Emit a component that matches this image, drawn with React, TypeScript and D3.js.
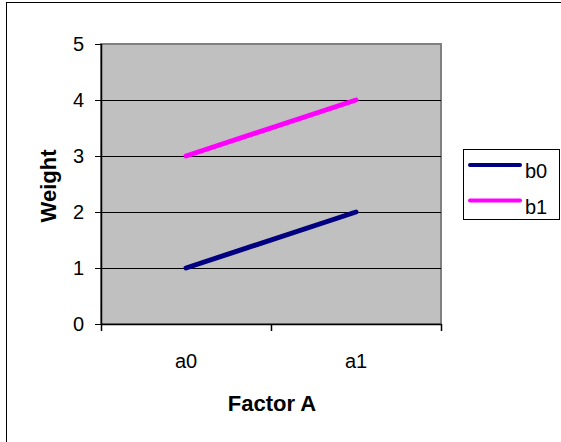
import React from "react";
import * as d3 from "d3";

const categories = ["a0", "a1"];
const seriesNames = ["b0", "b1"];
const b0Values = [1, 2];
const b1Values = [3, 4];
const yTicks = [0, 1, 2, 3, 4, 5];
const colors = ["#000080", "#FF00FF"];

export default function App() {
  const W = 561, H = 442;
  const left = 101, right = 441, top = 44, bottom = 324;
  const x = d3.scaleBand<string>().domain(categories).range([left, right]);
  const y = d3.scaleLinear().domain([0, 5]).range([bottom, top]);
  const cx = (c: string) => (x(c) ?? 0) + x.bandwidth() / 2;
  const series = [b0Values, b1Values];
  const line = d3
    .line<number>()
    .x((_, i) => cx(categories[i]))
    .y((d) => y(d));
  const font = "Arial, 'Liberation Sans', sans-serif";
  const boundaries = [left, ...categories.map((c) => (x(c) ?? 0) + x.bandwidth())];

  return (
    <div style={{ position: "absolute", left: 0, top: 0 }}>
      <svg width={W} height={H} style={{ display: "block", background: "#fff" }} fontFamily={font}>
        <rect x={6.5} y={2.5} width={700} height={600} fill="#fff" stroke="#000" strokeWidth={1} />
        <rect x={left} y={top} width={right - left} height={bottom - top} fill="#C0C0C0" stroke="#808080" strokeWidth={2} />
        {yTicks.filter((t) => t > 0 && t < 5).map((t) => (
          <line key={t} x1={left} x2={right} y1={y(t) + 0.5} y2={y(t) + 0.5} stroke="#000" strokeWidth={1} />
        ))}
        <line x1={left + 0.5} x2={left + 0.5} y1={top} y2={bottom} stroke="#000" strokeWidth={1.5} />
        <line x1={left} x2={right + 1} y1={bottom + 0.5} y2={bottom + 0.5} stroke="#000" strokeWidth={1.5} />
        {yTicks.map((t) => (
          <g key={t}>
            <line x1={left - 6} x2={left} y1={y(t) + 0.5} y2={y(t) + 0.5} stroke="#000" strokeWidth={1} />
            <text x={84} y={y(t)} dy="0.35em" textAnchor="end" fontSize={20} fill="#000">{t}</text>
          </g>
        ))}
        {boundaries.map((b, i) => (
          <line key={i} x1={b + 0.5} x2={b + 0.5} y1={bottom} y2={bottom + 7} stroke="#000" strokeWidth={1.5} />
        ))}
        {categories.map((c) => (
          <text key={c} x={cx(c)} y={368} textAnchor="middle" fontSize={20} fill="#000">{c}</text>
        ))}
        {series.map((s, i) => (
          <path key={i} d={line(s) ?? ""} fill="none" stroke={colors[i]} strokeWidth={5} strokeLinecap="round" />
        ))}
        <text x={(left + right) / 2 + 1} y={411} textAnchor="middle" fontSize={22} fontWeight="bold" fill="#000">Factor A</text>
        <text transform={`translate(56,${(top + bottom) / 2 + 2}) rotate(-90)`} textAnchor="middle" fontSize={22} fontWeight="bold" fill="#000">Weight</text>
        <rect x={463.5} y={149.5} width={96} height={70} fill="#fff" stroke="#000" strokeWidth={1} />
        {seriesNames.map((n, i) => (
          <g key={n}>
            <line x1={470} x2={520} y1={165 + i * 35.5} y2={165 + i * 35.5} stroke={colors[i]} strokeWidth={4} strokeLinecap="round" />
            <text x={525} y={178 + i * 35.5} fontSize={20} fill="#000">{n}</text>
          </g>
        ))}
      </svg>
    </div>
  );
}
